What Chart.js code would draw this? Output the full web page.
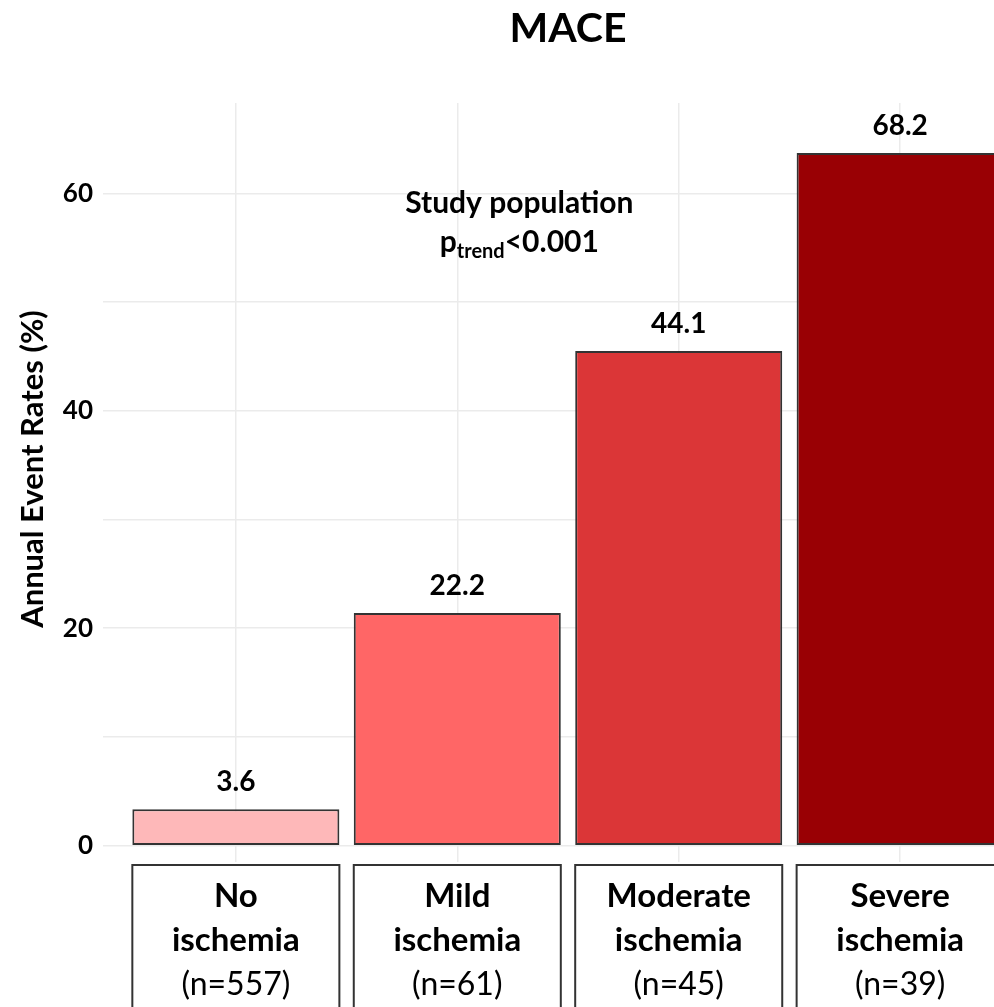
<!DOCTYPE html>
<html>
<head>
<meta charset="utf-8">
<title>MACE</title>
<script src="https://cdn.jsdelivr.net/npm/chart.js@4/dist/chart.umd.min.js"></script>
<style>
  body { margin: 0; background: #fff; overflow: hidden; }
  #wrap { position: relative; width: 1040px; height: 1040px; }
</style>
</head>
<body>
<div id="wrap"><canvas id="mycanvas"></canvas></div>
<script>
// values
var categories = [['No', 'ischemia'], ['Mild', 'ischemia'], ['Moderate', 'ischemia'], ['Severe', 'ischemia']];
var groupSizes = ['(n=557)', '(n=61)', '(n=45)', '(n=39)'];
var barHeights = [3.35, 21.4, 45.5, 63.7];
var valueLabels = ['3.6', '22.2', '44.1', '68.2'];
var barColors = ['#FEB8B9', '#FF6666', '#DB3637', '#990004'];
var yTickLabels = [0, 20, 40, 60];
var yGridValues = [0, 10, 20, 30, 40, 50, 60];

var FONT = 'Lato';
var gridColor = '#ebebeb';

var extras = {
	id: 'extras',
	afterDraw: function(chart) {
		var ctx = chart.ctx;
		var area = chart.chartArea;
		var xs = chart.scales.x;
		var ys = chart.scales.y;
		var bars = chart.getDatasetMeta(0).data;
		ctx.save();
		ctx.fillStyle = '#000';

		// title, centred over the panel
		ctx.font = 'bold 41px ' + FONT;
		ctx.textAlign = 'center';
		ctx.textBaseline = 'alphabetic';
		ctx.fillText('MACE', (area.left + area.right) / 2, 42);

		// y axis title
		ctx.save();
		ctx.translate(33, 469);
		ctx.rotate(-Math.PI / 2);
		ctx.font = 'bold 31px ' + FONT;
		ctx.textBaseline = 'middle';
		ctx.fillText('Annual Event Rates (%)', 0, 0);
		ctx.restore();

		// value labels over the bars
		ctx.font = 'bold 28px ' + FONT;
		for (var i = 0; i < bars.length; i++) {
			ctx.fillText(valueLabels[i], bars[i].x, bars[i].y - 18);
		}

		// category boxes under the panel
		for (var i = 0; i < bars.length; i++) {
			var b = bars[i];
			var top = area.bottom + 3;
			ctx.fillStyle = '#fff';
			ctx.fillRect(b.x - b.width / 2, top, b.width, 300);
			ctx.strokeStyle = '#333';
			ctx.lineWidth = 2;
			ctx.strokeRect(b.x - b.width / 2, top, b.width, 300);
			ctx.fillStyle = '#000';
			ctx.font = 'bold 33px ' + FONT;
			ctx.fillText(categories[i][0], b.x, top + 42);
			ctx.fillText(categories[i][1], b.x, top + 86);
			ctx.font = '32px ' + FONT;
			ctx.fillText(groupSizes[i], b.x, top + 130);
		}

		// annotation
		var cx = xs.getPixelForValue(1.28);
		ctx.font = 'bold 30px ' + FONT;
		ctx.fillText('Study population', cx, ys.getPixelForValue(58.2));
		var base = ys.getPixelForValue(54.6);
		var w1, w2, w3;
		ctx.font = 'bold 30px ' + FONT; w1 = ctx.measureText('p').width;
		ctx.font = 'bold 20px ' + FONT; w2 = ctx.measureText('trend').width;
		ctx.font = 'bold 30px ' + FONT; w3 = ctx.measureText('<0.001').width;
		var x0 = cx - (w1 + w2 + w3) / 2;
		ctx.textAlign = 'left';
		ctx.fillText('p', x0, base);
		ctx.fillText('<0.001', x0 + w1 + w2, base);
		ctx.font = 'bold 20px ' + FONT;
		ctx.fillText('trend', x0 + w1, base + 6);

		ctx.restore();
	}
};

function draw() {
	var chartdata = {
		datasets: [{
			label: 'MACE',
			data: barHeights.map(function(v, i) { return {x: i, y: v}; }),
			backgroundColor: barColors,
			borderColor: '#333',
			borderWidth: 2,
			borderSkipped: false,
			categoryPercentage: 1,
			barPercentage: 0.935
		}]
	};

	var ctx = document.getElementById('mycanvas');
	new Chart(ctx, {
		type: 'bar',
		data: chartdata,
		plugins: [extras],
		options: {
			responsive: true,
			maintainAspectRatio: false,
			animation: false,
			layout: { padding: { left: 0, right: 7, top: 103, bottom: 178 } },
			plugins: {
				legend: { display: false },
				tooltip: { enabled: false },
				title: { display: false }
			},
			scales: {
				x: {
					type: 'linear',
					offset: false,
					min: -0.6,
					max: 3.6,
					ticks: { display: false, stepSize: 1 },
					afterBuildTicks: function(scale) {
						scale.ticks = [0, 1, 2, 3].map(function(v) { return {value: v}; });
					},
					afterFit: function(scale) { scale.height = 0; },
					grid: { color: gridColor, lineWidth: 1.5, drawTicks: false, offset: false },
					border: { display: false }
				},
				y: {
					min: -1.5,
					max: 68.3,
					ticks: {
						padding: 10,
						color: '#000',
						font: { family: FONT, size: 26, weight: 'bold' },
						callback: function(v) { return yTickLabels.indexOf(v) >= 0 ? String(v) : ''; }
					},
					afterBuildTicks: function(scale) {
						scale.ticks = yGridValues.map(function(v) { return {value: v}; });
					},
					afterFit: function(scale) { scale.width = 103; },
					grid: { color: gridColor, lineWidth: 1.5, drawTicks: false },
					border: { display: false }
				}
			}
		}
	});
}

if (document.fonts && document.fonts.load) {
	Promise.all([
		document.fonts.load('bold 20px Lato'),
		document.fonts.load('20px Lato')
	]).then(draw, draw);
} else {
	draw();
}
</script>
</body>
</html>
